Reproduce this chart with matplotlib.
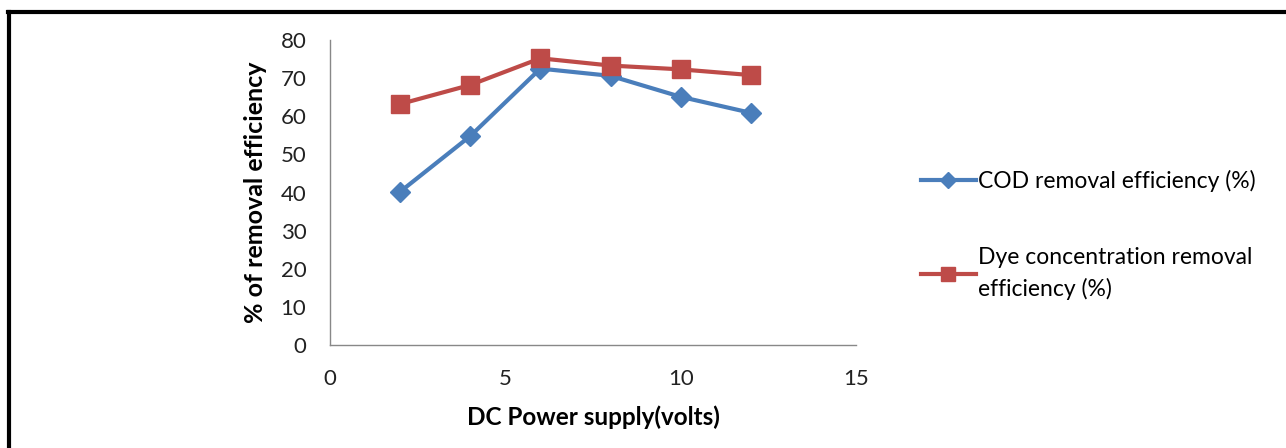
import matplotlib.pyplot as plt
from matplotlib.lines import Line2D

plt.rcParams['font.family'] = ['Lato', 'DejaVu Sans']

# voltage (V)
volts = [2, 4, 6, 8, 10, 12]
cod_eff = [40.2, 54.8, 72.5, 70.6, 65.1, 60.9]
dye_eff = [63.2, 68.2, 75.2, 73.3, 72.3, 70.8]

x_ticks = [0, 5, 10, 15]
y_ticks = [0, 10, 20, 30, 40, 50, 60, 70, 80]

blue = '#4A7EBB'
red = '#BE4B48'

fig = plt.figure(figsize=(12.86, 4.48), dpi=100)
ax = fig.add_axes([0.2566, 0.2299, 0.409, 0.6808])

ax.plot(volts, cod_eff, color=blue, lw=3, marker='D', ms=10.5,
        label='COD removal efficiency (%)')
ax.plot(volts, dye_eff, color=red, lw=3, marker='s', ms=13.5,
        label='Dye concentration removal\nefficiency (%)')

ax.set_xlim(0, 15)
ax.set_ylim(0, 80)
ax.set_xticks(x_ticks)
ax.set_yticks(y_ticks)
ax.tick_params(length=0, labelsize=16, pad=17, colors='#222222')

for s in ['top', 'right']:
    ax.spines[s].set_visible(False)
for s in ['left', 'bottom']:
    ax.spines[s].set_color('#888888')
    ax.spines[s].set_linewidth(1)

ax.set_xlabel('DC Power supply(volts)', fontsize=17.5, fontweight='bold', labelpad=12)
ax.set_ylabel('% of removal efficiency', fontsize=18, fontweight='bold', labelpad=10)

leg = fig.legend(loc='center left', bbox_to_anchor=(0.7, 0.476), frameon=False,
                 fontsize=16.5, handlelength=2.4, handletextpad=0.1,
                 labelspacing=2.4, markerscale=0.75)
for t in leg.get_texts():
    t.set_linespacing(1.55)

# black frame on top and left of the picture
fig.add_artist(Line2D([8 / 1286, 1], [1 - 12 / 448, 1 - 12 / 448], color='black', lw=3))
fig.add_artist(Line2D([9 / 1286, 9 / 1286], [0, 1 - 12 / 448], color='black', lw=3))

fig.savefig('out.png', dpi=100)
